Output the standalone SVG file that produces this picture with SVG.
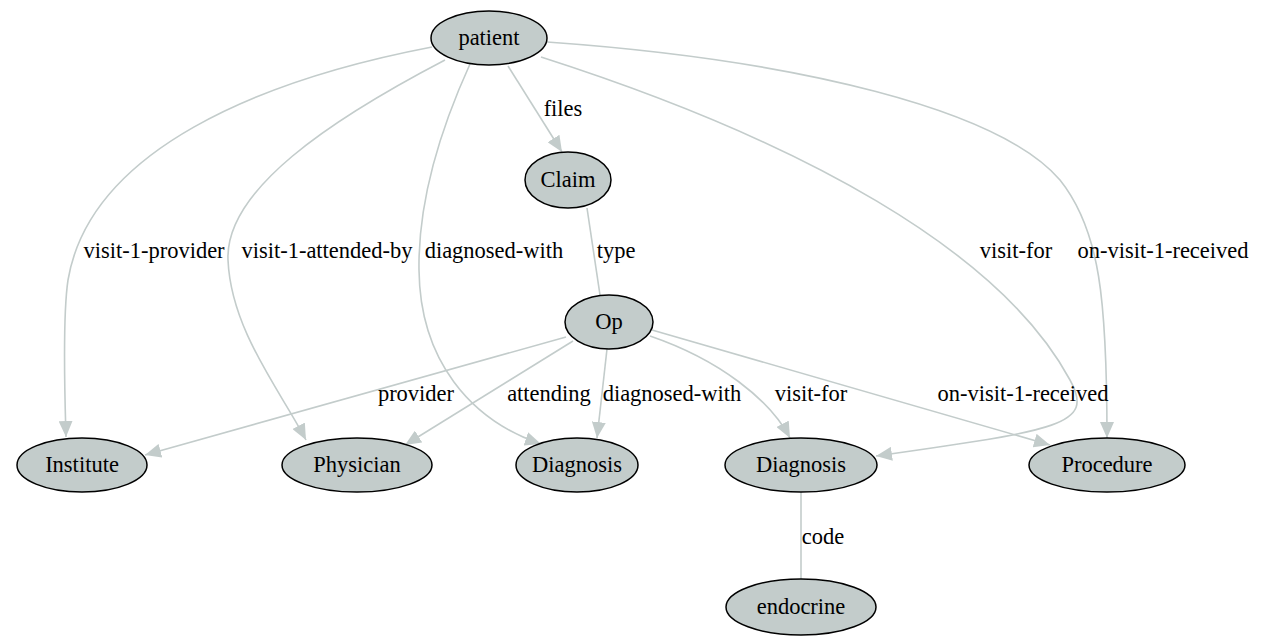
<svg xmlns="http://www.w3.org/2000/svg" width="1274" height="638" viewBox="0 0 1274 638">
<style>
.node ellipse{fill:#c3cccb;stroke:#000;stroke-width:1.5}
text{font-family:'Liberation Serif','DejaVu Serif',serif;font-size:22.5px;fill:#000;text-anchor:middle}
.edges path{fill:none;stroke:#c3cccb;stroke-width:1.6}
.arr{marker-end:url(#ah)}
</style>
<defs>
<marker id="ah" markerUnits="userSpaceOnUse" markerWidth="18" markerHeight="14" refX="16" refY="7" orient="auto">
<path d="M0,0 L16,7 L0,14 Z" fill="#c3cccb"/>
</marker>
</defs>
<rect width="1274" height="638" fill="#fff"/>
<g class="edges" id="connectors">
<path class="arr" d="M432,47 C260,80 90,150 68,280 C62,320 65,400 66,437"/>
<path class="arr" d="M445,60 C330,120 225,190 228,260 C231,330 280,390 306,440"/>
<path class="arr" d="M470,64 C440,130 418,200 419,270 C420,360 470,420 541,444"/>
<path class="arr" d="M508,66 L562,152"/>
<path d="M587,208 L600,295"/>
<path class="arr" d="M541,57 C800,140 1000,250 1070,380 C1095,425 1060,430 876,456"/>
<path class="arr" d="M547,42 C800,60 1000,110 1060,180 C1100,230 1107,300 1107,438"/>
<path class="arr" d="M566,337 L145,455"/>
<path class="arr" d="M573,341 L405,445"/>
<path class="arr" d="M607,349 L597,438"/>
<path class="arr" d="M650,336 C720,360 770,400 790,438"/>
<path class="arr" d="M652,330 L1050,445"/>
<path d="M801,492 L801,579"/>
<text x="154" y="258">visit-1-provider</text>
<text x="327" y="258">visit-1-attended-by</text>
<text x="494" y="258">diagnosed-with</text>
<text x="563" y="116">files</text>
<text x="616" y="258">type</text>
<text x="1016" y="258">visit-for</text>
<text x="1163" y="258">on-visit-1-received</text>
<text x="416" y="401">provider</text>
<text x="549" y="401">attending</text>
<text x="672" y="401">diagnosed-with</text>
<text x="811" y="401">visit-for</text>
<text x="1023" y="401">on-visit-1-received</text>
<text x="823" y="544">code</text>
</g>
<g class="node" id="patient"><ellipse cx="489" cy="38" rx="58" ry="27"/><text x="489" y="45">patient</text></g>
<g class="node" id="claim"><ellipse cx="568" cy="180" rx="43" ry="28"/><text x="568" y="187">Claim</text></g>
<g class="node" id="op"><ellipse cx="609" cy="322" rx="44" ry="27"/><text x="609" y="329">Op</text></g>
<g class="node" id="institute"><ellipse cx="82" cy="465" rx="65" ry="27"/><text x="82" y="472">Institute</text></g>
<g class="node" id="physician"><ellipse cx="357" cy="465" rx="75" ry="27"/><text x="357" y="472">Physician</text></g>
<g class="node" id="diagnosis1"><ellipse cx="577" cy="465" rx="61" ry="27"/><text x="577" y="472">Diagnosis</text></g>
<g class="node" id="diagnosis2"><ellipse cx="801" cy="465" rx="76" ry="27"/><text x="801" y="472">Diagnosis</text></g>
<g class="node" id="procedure"><ellipse cx="1107" cy="465" rx="78" ry="27"/><text x="1107" y="472">Procedure</text></g>
<g class="node" id="endocrine"><ellipse cx="801" cy="607" rx="75" ry="28"/><text x="801" y="614">endocrine</text></g>
</svg>
